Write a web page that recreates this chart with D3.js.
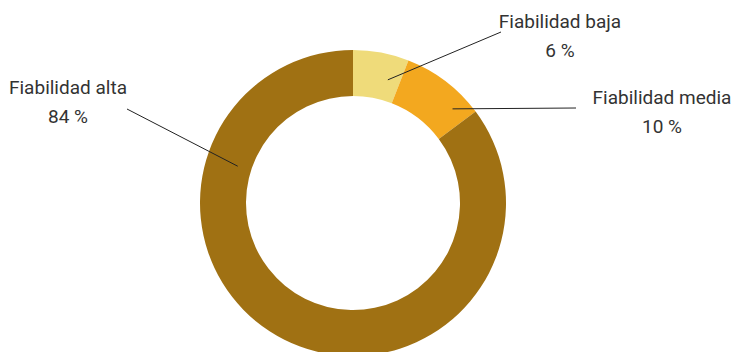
<!DOCTYPE html>
<html>
<head>
<meta charset="utf-8">
<script src="https://cdn.jsdelivr.net/npm/d3@7"></script>
<style>
  body { margin: 0; background: #fff; }
  .lbl { font-family: Roboto, sans-serif; font-size: 19px; fill: #333; }
</style>
</head>
<body>
<div id="chart"></div>
<script>
var categories = ["Fiabilidad baja", "Fiabilidad media", "Fiabilidad alta"];
// slice sizes as drawn in the picture (labels are rounded as printed)
var values = [5.9, 8.9, 85.2];
var valueLabels = ["6 %", "10 %", "84 %"];
var colors = ["#efdb7a", "#f3a81f", "#a07113"];

var svgWidth = 737;
var svgHeight = 352;

var cx = 353, cy = 203;
var outerR = 153, innerR = 107;

// label layout: text centre/baseline and leader anchor (angle in deg, radius)
var labelLayout = [
  { x: 560, y: 28, lineEnd: [501, 32], angle: 15.8, r: 128 },
  { x: 662, y: 104, lineEnd: [576, 108], angle: 46.6, r: 137 },
  { x: 68, y: 94, lineEnd: [127, 109], angle: 287.7, r: 121 }
];

var svg = d3.select("#chart")
  .append("svg")
  .attr("width", svgWidth)
  .attr("height", svgHeight);

var chartGroup = svg.append("g")
  .attr("transform", `translate(${cx}, ${cy})`);

var pie = d3.pie().sort(null).value(d => d);
var arc = d3.arc().innerRadius(innerR).outerRadius(outerR);

chartGroup.selectAll(".slice")
  .data(pie(values))
  .enter()
  .append("path")
  .attr("class", "slice")
  .attr("d", arc)
  .attr("fill", (d, i) => colors[i]);

// leader lines + labels
categories.forEach(function(c, i) {
  var l = labelLayout[i];
  var a = l.angle * Math.PI / 180;
  svg.append("line")
    .attr("x1", cx + l.r * Math.sin(a))
    .attr("y1", cy - l.r * Math.cos(a))
    .attr("x2", l.lineEnd[0])
    .attr("y2", l.lineEnd[1])
    .attr("stroke", "#222")
    .attr("stroke-width", 1);

  svg.append("text")
    .attr("class", "lbl")
    .attr("x", l.x)
    .attr("y", l.y)
    .attr("text-anchor", "middle")
    .text(c);

  svg.append("text")
    .attr("class", "lbl")
    .attr("x", l.x)
    .attr("y", l.y + 29)
    .attr("text-anchor", "middle")
    .text(valueLabels[i]);
});
</script>
</body>
</html>
